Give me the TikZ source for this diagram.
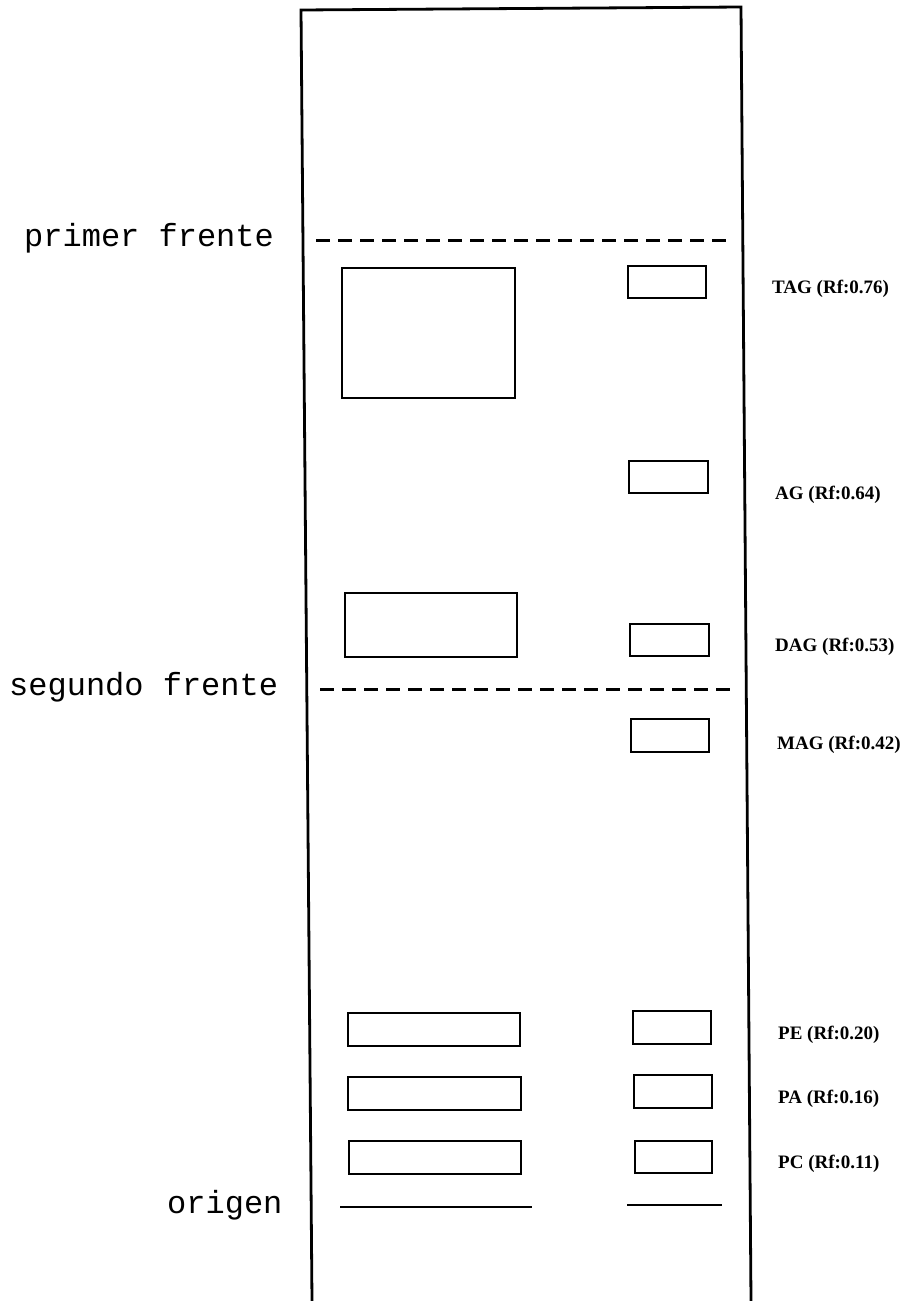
\documentclass[tikz,border=0pt]{standalone}
\usepackage{fontspec}
\setmainfont{Liberation Serif}
\newfontfamily\platemono{Liberation Mono}
\begin{document}
\begin{tikzpicture}[x=1pt,y=-1pt,
  plate/.style={line width=2.8pt, line join=miter},
  spot/.style={draw, line width=2.1pt},
  front/.style={line width=3pt, dash pattern=on 14pt off 8pt},
  baseline line/.style={line width=2.1pt},
  lefttext/.style={font=\platemono\fontsize{32}{32}\selectfont, anchor=base west, inner sep=0pt},
  righttext/.style={font=\bfseries\fontsize{19}{20}\selectfont, anchor=base west, inner sep=0pt}]
\useasboundingbox (0,0) rectangle (905,1301);
% plate outline (open at the bottom)
\draw[plate] (312,1301) -- (301,10) -- (741,7) -- (751,1301);
% solvent fronts
\draw[front] (316,240) -- (730,240);
\draw[front] (320,689) -- (730,689);
% origin lines
\draw[baseline line] (340,1207) -- (532,1207);
\draw[baseline line] (627,1205) -- (722,1205);
% left lane spots
\draw[spot] (342,268) rectangle (515,398);
\draw[spot] (345,593) rectangle (517,657);
\draw[spot] (348,1013) rectangle (520,1046);
\draw[spot] (348,1077) rectangle (521,1110);
\draw[spot] (349,1141) rectangle (521,1174);
% right lane standards
\draw[spot] (628,266) rectangle (706,298);
\draw[spot] (629,461) rectangle (708,493);
\draw[spot] (630,624) rectangle (709,656);
\draw[spot] (631,719) rectangle (709,752);
\draw[spot] (633,1011) rectangle (711,1044);
\draw[spot] (634,1075) rectangle (712,1108);
\draw[spot] (635,1141) rectangle (712,1173);
% left labels
\node[lefttext] (primer) at (24,246) {primer frente};
\node[lefttext] (segundo) at (9,695) {segundo frente};
\node[lefttext] (origen) at (167,1213) {origen};
% right labels
\node[righttext] (tag) at (772,293) {TAG (Rf:0.76)};
\node[righttext] (ag) at (775,499) {AG (Rf:0.64)};
\node[righttext] (dag) at (775,651) {DAG (Rf:0.53)};
\node[righttext] (mag) at (777,749) {MAG (Rf:0.42)};
\node[righttext] (pe) at (778,1039) {PE (Rf:0.20)};
\node[righttext] (pa) at (778,1103) {PA (Rf:0.16)};
\node[righttext] (pc) at (778,1168) {PC (Rf:0.11)};
\end{tikzpicture}
\end{document}
